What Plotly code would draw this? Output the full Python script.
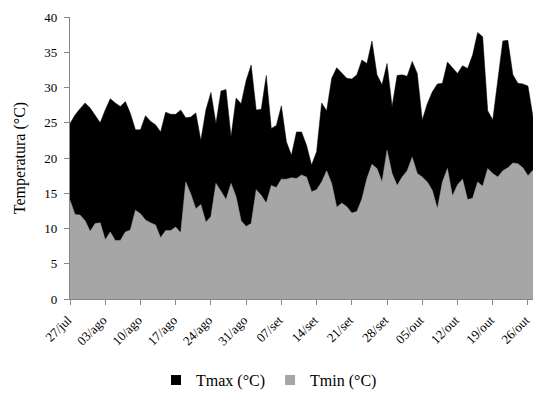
import pandas as pd
import plotly.graph_objects as go

# Daily dates 27/jul .. 27/out
datas = pd.date_range("2019-07-27", "2019-10-27", freq="D")

tmax = [24.9, 26.1, 27.0, 27.8, 27.1, 26.1, 25.0, 26.8, 28.4, 27.8,
        27.3, 28.0, 26.3, 24.0, 24.0, 26.0, 25.2, 24.7, 23.7, 26.5,
        26.2, 26.2, 26.8, 25.7, 25.8, 26.4, 22.5, 26.8, 29.3, 24.9,
        29.5, 29.7, 23.0, 28.5, 27.7, 31.0, 33.2, 26.8, 26.9, 31.7,
        24.2, 24.6, 27.4, 22.3, 20.4, 23.7, 23.7, 21.8, 19.0, 20.9,
        27.8, 26.7, 31.3, 32.8, 32.1, 31.3, 31.2, 31.8, 33.9, 33.4,
        36.6, 31.8, 30.4, 33.4, 27.3, 31.7, 31.8, 31.6, 33.7, 32.0,
        25.4, 27.7, 29.4, 30.5, 30.6, 33.6, 32.8, 32.0, 33.1, 32.7,
        34.6, 37.8, 37.2, 26.7, 25.4, 31.3, 36.6, 36.7, 31.8, 30.6,
        30.5, 30.2, 25.8]

tmin = [14.0, 12.0, 11.9, 11.1, 9.6, 10.7, 10.8, 8.4, 9.5, 8.3,
        8.3, 9.5, 9.8, 12.6, 12.1, 11.2, 10.8, 10.5, 8.7, 9.7,
        9.7, 10.2, 9.4, 16.6, 14.9, 12.8, 13.4, 10.9, 11.7, 16.4,
        15.3, 14.1, 16.4, 14.5, 11.1, 10.3, 10.7, 15.5, 14.7, 13.6,
        16.1, 15.8, 17.0, 17.0, 17.2, 17.1, 17.6, 17.3, 15.2, 15.5,
        16.6, 18.2, 16.4, 13.0, 13.6, 13.1, 12.2, 12.4, 14.2, 17.1,
        19.1, 18.5, 16.6, 21.1, 17.8, 16.1, 17.3, 18.2, 20.1, 17.8,
        17.3, 16.6, 15.4, 12.8, 16.6, 18.5, 14.6, 16.2, 17.0, 14.1,
        14.3, 16.6, 16.0, 18.5, 17.8, 17.3, 18.2, 18.6, 19.3, 19.2,
        18.6, 17.5, 18.3]

tick_labels = ["27/jul", "03/ago", "10/ago", "17/ago", "24/ago", "31/ago",
               "07/set", "14/set", "21/set", "28/set", "05/out", "12/out",
               "19/out", "26/out"]

series_names = ["Tmax (°C)", "Tmin (°C)"]
colors = ["#000000", "#A6A6A6"]

FONT = "Liberation Serif"
AXC = "#868686"

fig = go.Figure()
for name, vals, col in zip(series_names, [tmax, tmin], colors):
    fig.add_trace(go.Scatter(
        x=datas, y=vals, mode="lines", fill="tozeroy",
        line=dict(color=col, width=0.5), fillcolor=col,
        showlegend=False, hoverinfo="x+y", name=name))
# legend swatches (square)
for name, col in zip(series_names, colors):
    fig.add_trace(go.Scatter(x=[None], y=[None], name=name, mode="markers",
                             marker=dict(color=col, symbol="square", size=10)))

fig.update_layout(
    width=538, height=398,
    margin=dict(l=70, r=5, t=17, b=99, autoexpand=False),
    paper_bgcolor="white", plot_bgcolor="white",
    font=dict(family=FONT, size=13, color="#000000"),
    showlegend=True,
    legend=dict(orientation="h", xref="container", yref="container",
                x=0.5, xanchor="center", y=0.045, yanchor="middle",
                font=dict(size=16, family=FONT), itemwidth=30, traceorder="normal"),
    xaxis=dict(
        range=[datas[0], datas[-1]],
        tickvals=list(datas[::7]),
        ticktext=[t + "\u00a0" for t in tick_labels],
        tickangle=-45, ticks="outside", ticklen=5, tickcolor=AXC,
        showline=True, linecolor=AXC, linewidth=1.3,
        showgrid=False, zeroline=False, automargin=False,
        ticklabeloverflow="allow",
        tickfont=dict(size=13, family=FONT)),
    yaxis=dict(
        range=[0, 40], dtick=5, tick0=0,
        ticks="outside", ticklen=5, tickcolor=AXC,
        showline=True, linecolor=AXC, linewidth=1.3,
        showgrid=False, zeroline=False, automargin=False,
        ticklabelstandoff=4,
        title=dict(text="Temperatura (°C)", font=dict(size=16, family=FONT), standoff=14),
        tickfont=dict(size=13, family=FONT)),
)

fig.write_html("out.html", config={"displayModeBar": False},
               post_script="document.body.style.margin='0px';document.body.style.overflow='hidden';")
